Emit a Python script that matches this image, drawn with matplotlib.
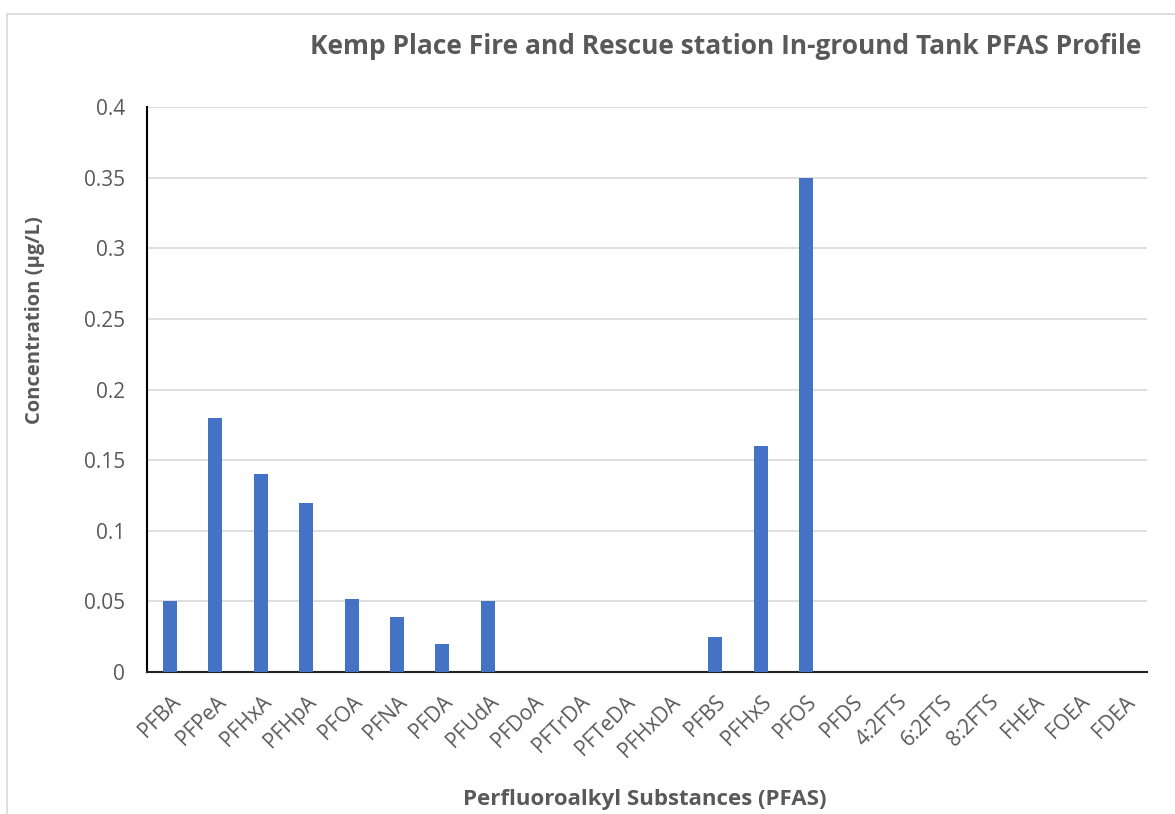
import matplotlib

matplotlib.use("Agg")
import matplotlib.pyplot as plt
from matplotlib.patches import Rectangle

substances = ["PFBA", "PFPeA", "PFHxA", "PFHpA", "PFOA", "PFNA", "PFDA", "PFUdA",
              "PFDoA", "PFTrDA", "PFTeDA", "PFHxDA", "PFBS", "PFHxS", "PFOS", "PFDS",
              "4:2FTS", "6:2FTS", "8:2FTS", "FHEA", "FOEA", "FDEA"]
conc = [0.05, 0.18, 0.14, 0.12, 0.052, 0.039, 0.02, 0.05,
        0, 0, 0, 0, 0.025, 0.16, 0.35, 0,
        0, 0, 0, 0, 0, 0]
yticks = [0, 0.05, 0.1, 0.15, 0.2, 0.25, 0.3, 0.35, 0.4]
ytick_labels = ["0", "0.05", "0.1", "0.15", "0.2", "0.25", "0.3", "0.35", "0.4"]

plt.rcParams["font.family"] = ["Open Sans", "DejaVu Sans"]
grey = "#595959"

fig = plt.figure(figsize=(11.75, 8.14), dpi=100)
fig.patches.append(Rectangle((7 / 1175, -0.01), 1.02, (814 - 14) / 814 + 0.01,
                             transform=fig.transFigure, fill=False,
                             edgecolor="#d9d9d9", lw=1.2))
ax = fig.add_axes([147 / 1175, (814 - 672) / 814, 1000 / 1175, 565 / 814])

x = range(len(substances))
ax.bar(x, conc, width=0.31, color="#4472c4", zorder=3)
ax.set_xlim(-0.5, len(substances) - 0.5)
ax.set_ylim(0, 0.4)
ax.set_yticks(yticks)
ax.set_yticklabels(ytick_labels)
ax.set_xticks(list(x))
ax.set_xticklabels(substances, rotation=45, ha="right", rotation_mode="anchor")
ax.tick_params(axis="both", length=0, labelsize=15, labelcolor=grey)
ax.tick_params(axis="y", pad=16)
ax.tick_params(axis="x", pad=14)
ax.grid(axis="y", color="#d9d9d9", lw=1.2, zorder=0)
for s in ["top", "right"]:
    ax.spines[s].set_visible(False)
ax.spines["left"].set_color("black")
ax.spines["left"].set_linewidth(1.5)
ax.spines["bottom"].set_color("#222222")
ax.spines["bottom"].set_linewidth(1.5)

fig.text(726 / 1175, 1 - 47 / 814, "Kemp Place Fire and Rescue station In-ground Tank PFAS Profile",
         ha="center", va="center", fontsize=19, fontweight="bold", color=grey)
fig.text(645 / 1175, 1 - 800 / 814, "Perfluoroalkyl Substances (PFAS)",
         ha="center", va="center", fontsize=16, fontweight="bold", color=grey)
fig.text(35 / 1175, 1 - 320 / 814, "Concentration (µg/L)", rotation=90,
         ha="center", va="center", fontsize=14.5, fontweight="bold", color=grey)

fig.savefig("out.png", dpi=100)
